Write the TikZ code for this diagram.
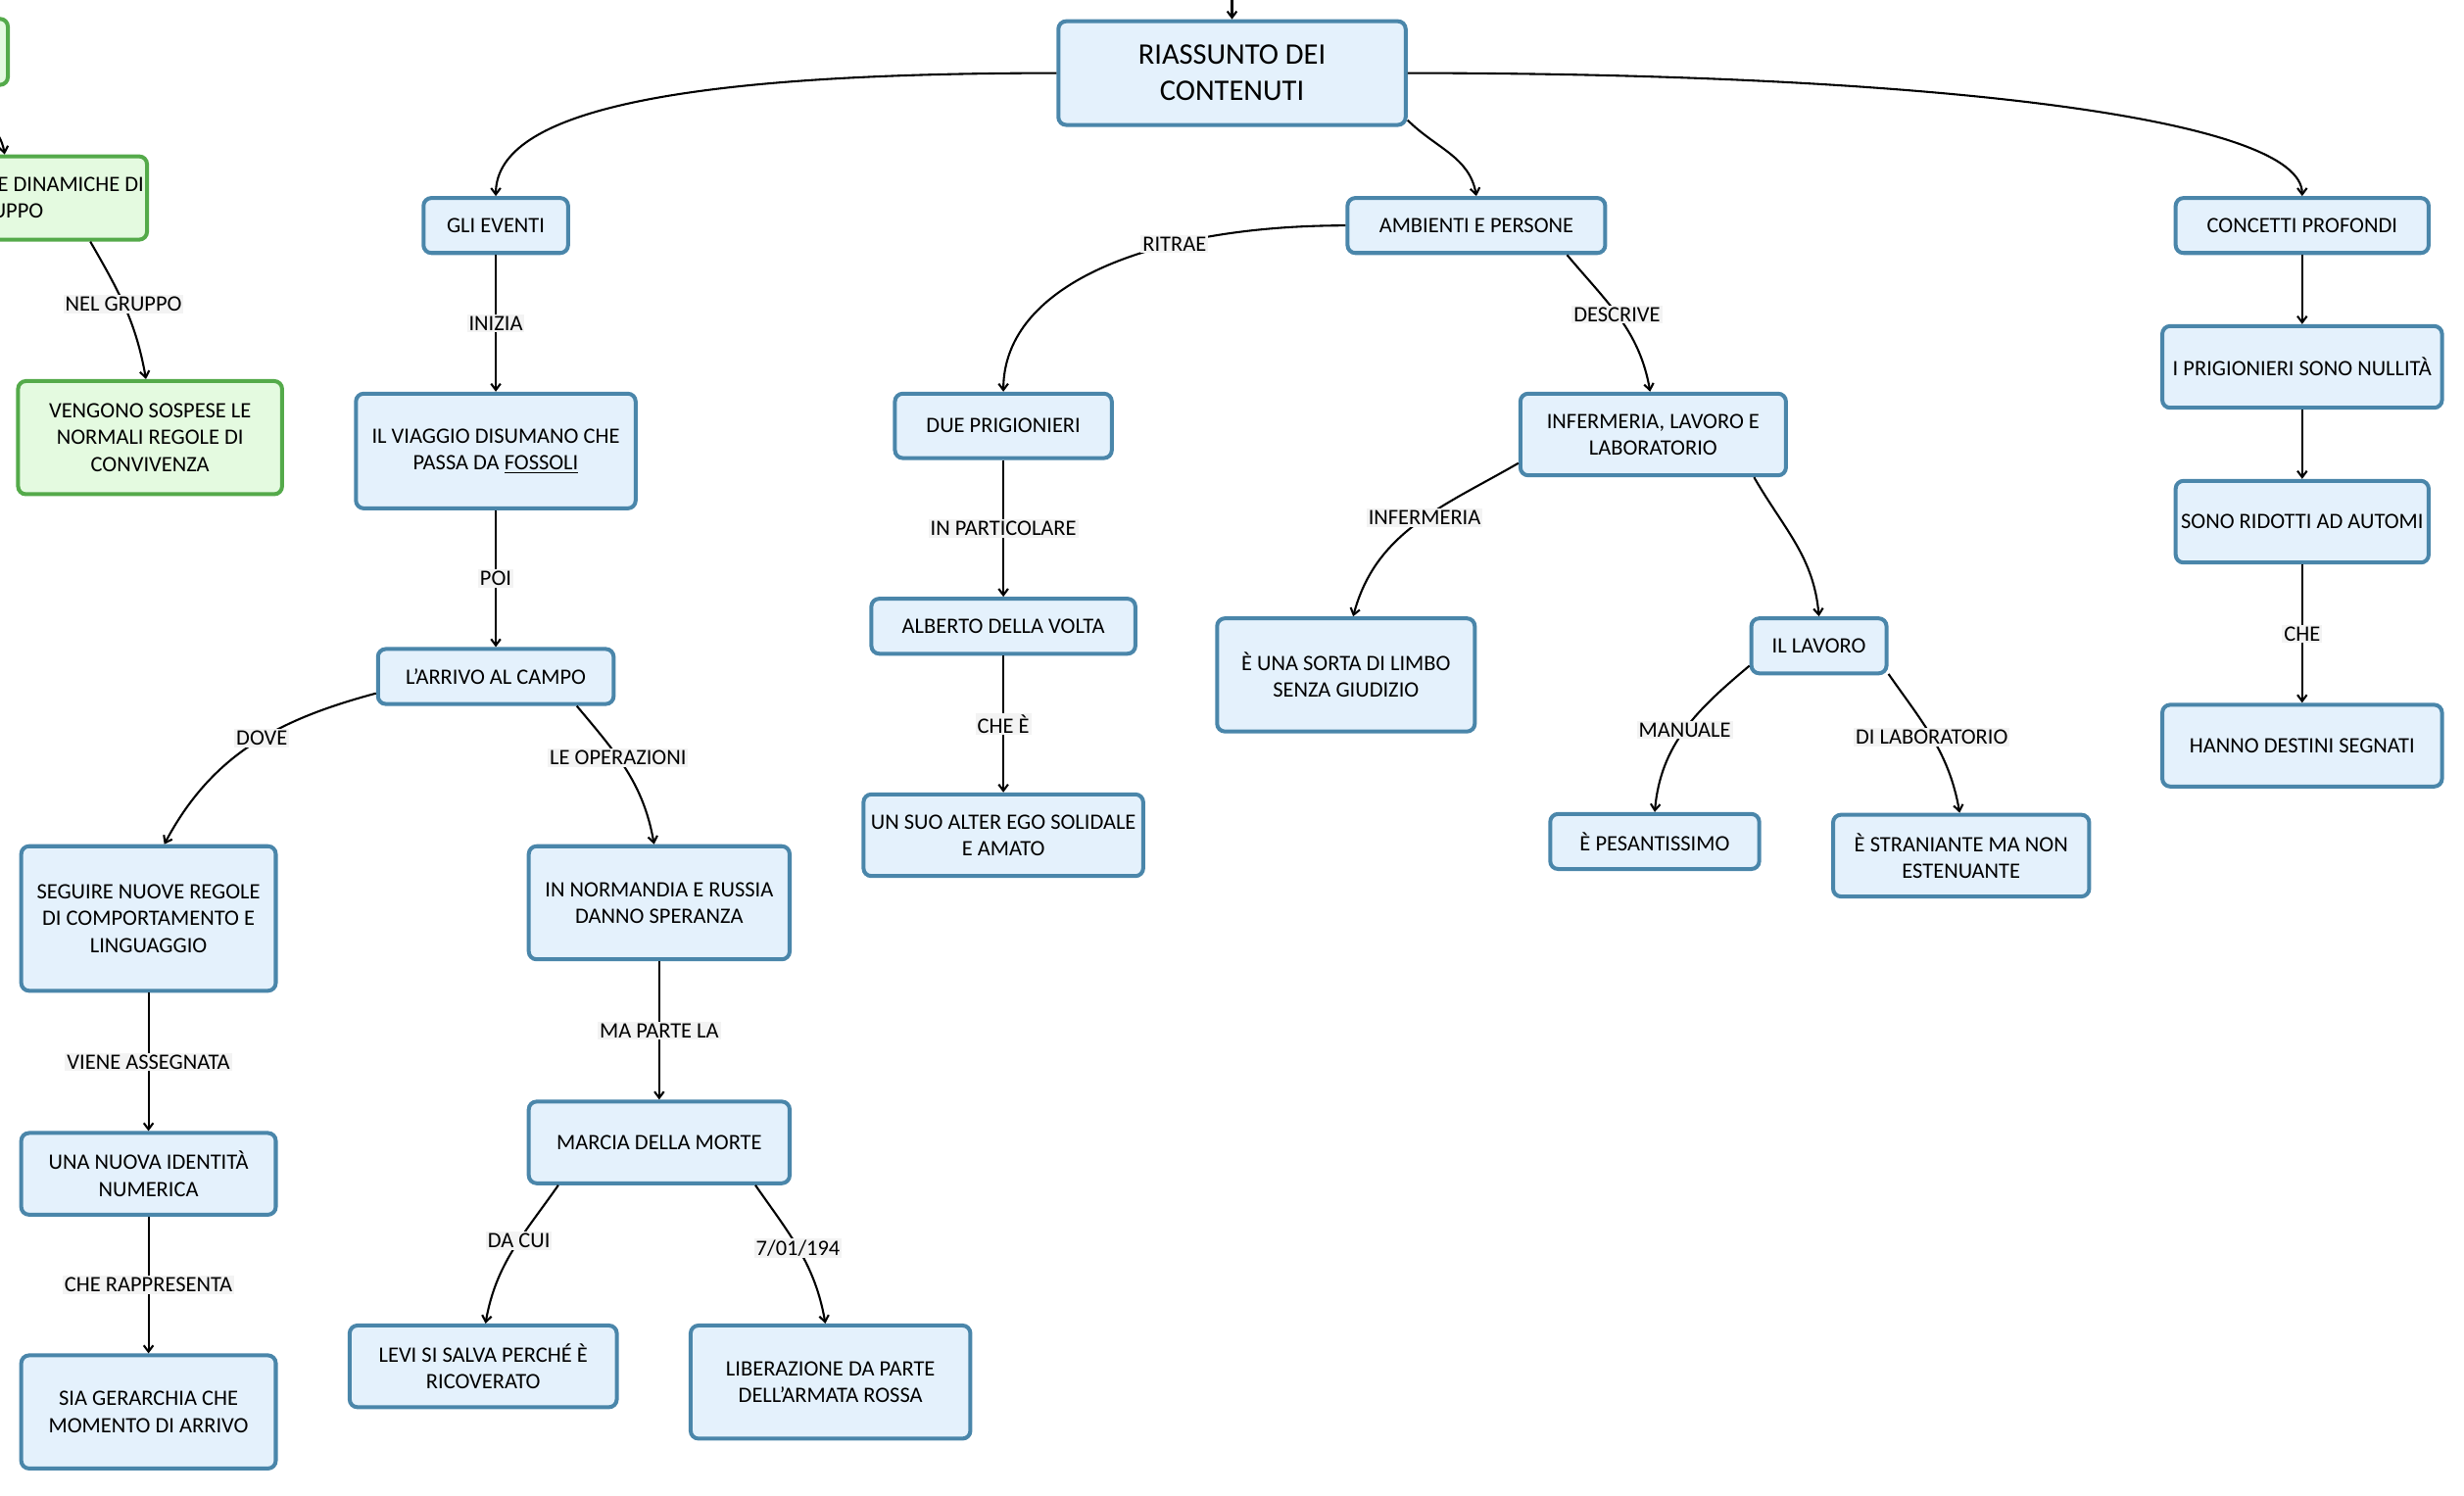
\documentclass[tikz,border=0pt]{standalone}
\usepackage{fontspec}
\setmainfont{Carlito}
\usetikzlibrary{arrows.meta, positioning}
\definecolor{boxline}{RGB}{74,134,170}
\definecolor{boxfill}{RGB}{228,241,252}
\definecolor{greenline}{RGB}{84,170,74}
\definecolor{greenfill}{RGB}{228,250,224}
\definecolor{labelfill}{RGB}{243,243,243}
\newcommand{\mapfont}{\fontsize{14pt}{17pt}\selectfont}
\newcommand{\rootfont}{\fontsize{19pt}{23pt}\selectfont}

\begin{document}
\begin{tikzpicture}[
  x=1pt, y=1pt,
  box/.style={rectangle, draw=boxline, fill=boxfill, line width=2.5pt, rounded corners=5pt, align=center, inner sep=2pt, font=\mapfont},
  greenbox/.style={box, draw=greenline, fill=greenfill},
  arrow/.style={-{Straight Barb[length=4pt,width=6pt]}, line width=1.3pt},
  linklabel/.style={fill=labelfill, inner sep=1.2pt, font=\mapfont}
]
  \useasboundingbox (0,0) rectangle (1568,-951.4);
  \clip (0,0) rectangle (1568,-951.4);

  % Root
  \node[box, font=\rootfont, minimum width=221pt, minimum height=66pt] (riassunto) at (784,-46.5) {RIASSUNTO DEI\\CONTENUTI};
  \coordinate (topin) at (784,20);

  % Eventi
  \node[box, minimum width=92pt, minimum height=35pt] (eventi) at (315.5,-143.5) {GLI EVENTI};
  \node[box, minimum width=178pt, minimum height=73pt, below=87pt of eventi] (viaggio) {IL VIAGGIO DISUMANO CHE\\PASSA DA \underline{FOSSOLI}};
  \node[box, minimum width=150pt, minimum height=35pt, below=87pt of viaggio] (arrivo) {L'ARRIVO AL CAMPO};
  \node[box, minimum width=162pt, minimum height=92pt] (seguire) at (94.5,-584.5) {SEGUIRE NUOVE REGOLE\\DI COMPORTAMENTO E\\LINGUAGGIO};
  \node[box, minimum width=162pt, minimum height=52pt, below=88pt of seguire] (identita) {UNA NUOVA IDENTITÀ\\NUMERICA};
  \node[box, minimum width=162pt, minimum height=72pt, below=87pt of identita] (gerarchia) {SIA GERARCHIA CHE\\MOMENTO DI ARRIVO};
  \node[box, minimum width=166pt, minimum height=72pt] (normandia) at (419.5,-574.5) {IN NORMANDIA E RUSSIA\\DANNO SPERANZA};
  \node[box, minimum width=166pt, minimum height=52pt, below=88pt of normandia] (marcia) {MARCIA DELLA MORTE};
  \node[box, minimum width=170pt, minimum height=52pt] (levi) at (307.5,-869.5) {LEVI SI SALVA PERCHÉ È\\RICOVERATO};
  \node[box, minimum width=178pt, minimum height=72pt] (liberazione) at (528.5,-879.5) {LIBERAZIONE DA PARTE\\DELL'ARMATA ROSSA};

  % Ambienti e persone
  \node[box, minimum width=164pt, minimum height=35pt] (ambienti) at (939.5,-143.5) {AMBIENTI E PERSONE};
  \node[box, minimum width=138pt, minimum height=41pt] (prigionieri) at (638.5,-271) {DUE PRIGIONIERI};
  \node[box, minimum width=168pt, minimum height=35pt, below=87pt of prigionieri] (alberto) {ALBERTO DELLA VOLTA};
  \node[box, minimum width=178pt, minimum height=52pt, below=87pt of alberto] (alterego) {UN SUO ALTER EGO SOLIDALE\\E AMATO};
  \node[box, minimum width=169pt, minimum height=52pt] (infermeria) at (1052,-276.5) {INFERMERIA, LAVORO E\\LABORATORIO};
  \node[box, minimum width=164pt, minimum height=72pt] (limbo) at (856.5,-429.5) {È UNA SORTA DI LIMBO\\SENZA GIUDIZIO};
  \node[box, minimum width=86pt, minimum height=35pt] (lavoro) at (1157.5,-411) {IL LAVORO};
  \node[box, minimum width=133pt, minimum height=35pt] (pesante) at (1053,-535.5) {È PESANTISSIMO};
  \node[box, minimum width=163pt, minimum height=52pt] (straniante) at (1248,-544.5) {È STRANIANTE MA NON\\ESTENUANTE};

  % Concetti profondi
  \node[box, minimum width=161pt, minimum height=35pt] (concetti) at (1465,-143.5) {CONCETTI PROFONDI};
  \node[box, minimum width=178pt, minimum height=52pt, below=44pt of concetti] (nullita) {I PRIGIONIERI SONO NULLITÀ};
  \node[box, minimum width=161pt, minimum height=52pt, below=44pt of nullita] (automi) {SONO RIDOTTI AD AUTOMI};
  \node[box, minimum width=178pt, minimum height=52pt, below=88pt of automi] (destini) {HANNO DESTINI SEGNATI};

  % Green branch, cut by the left edge
  \node[greenbox, minimum width=150pt, minimum height=42pt] (gruppi) at (-70,-33) {};
  \node[greenbox, minimum width=181pt, minimum height=53pt] (dinamiche) at (3,-126) {\hspace*{84pt}E DINAMICHE DI\\GRUPPO};
  \node[greenbox, minimum width=168pt, minimum height=72pt] (sospese) at (95.5,-278.5) {VENGONO SOSPESE LE\\NORMALI REGOLE DI\\CONVIVENZA};

  % Links from the root
  \draw[arrow] (topin) -- (riassunto);
  \draw[arrow] (riassunto.west) .. controls +(180:260) and +(90:50) .. (eventi.north);
  \draw[arrow] (riassunto.east) .. controls +(0:330) and +(90:50) .. (concetti.north);
  \draw[arrow] (riassunto.-15.6) to[out=-45, in=100] (ambienti.north);

  % Eventi
  \draw[arrow] (eventi) -- node[linklabel] {INIZIA} (viaggio);
  \draw[arrow] (viaggio) -- node[linklabel] {POI} (arrivo);
  \draw[arrow] (arrivo.188) to[out=195, in=62] node[linklabel, pos=0.45] {DOVE} (seguire.78);
  \draw[arrow] (arrivo.-20) to[out=-50, in=100] node[linklabel, pos=0.4] {LE OPERAZIONI} (normandia.95);
  \draw[arrow] (seguire) -- node[linklabel] {VIENE ASSEGNATA} (identita);
  \draw[arrow] (identita) -- node[linklabel] {CHE RAPPRESENTA} (gerarchia);
  \draw[arrow] (normandia) -- node[linklabel] {MA PARTE LA} (marcia);
  \draw[arrow] (marcia.-157) to[out=-125, in=80] node[linklabel, pos=0.42] {DA CUI} (levi.87);
  \draw[arrow] (marcia.-24) to[out=-55, in=100] node[linklabel, pos=0.48] {7/01/194} (liberazione.95);

  % Ambienti e persone
  \draw[arrow] (ambienti.west) .. controls +(180:120) and +(90:70) .. node[linklabel, pos=0.33] {RITRAE} (prigionieri.north);
  \draw[arrow] (ambienti.-18.1) to[out=-50, in=100] node[linklabel, pos=0.47] {DESCRIVE} (infermeria.94);
  \draw[arrow] (prigionieri) -- node[linklabel] {IN PARTICOLARE} (alberto);
  \draw[arrow] (alberto) -- node[linklabel] {CHE È} (alterego);
  \draw[arrow] (infermeria.192) to[out=210, in=75] node[linklabel, pos=0.45] {INFERMERIA} (limbo.83);
  \draw[arrow] (infermeria.-23.3) to[out=-60, in=95] (lavoro.north);
  \draw[arrow] (lavoro.196) to[out=220, in=85] node[linklabel, pos=0.5] {MANUALE} (pesante.north);
  \draw[arrow] (lavoro.-22) to[out=-55, in=100] node[linklabel, pos=0.48] {DI LABORATORIO} (straniante.92);

  % Concetti profondi
  \draw[arrow] (concetti.south) -- (nullita.north);
  \draw[arrow] (nullita.south) -- (automi.north);
  \draw[arrow] (automi.south) -- node[linklabel] {CHE} (destini.north);

  % Green branch
  \draw[arrow] (gruppi.south) to[out=-30, in=100] (dinamiche.north);
  \draw[arrow] (dinamiche.-27.4) to[out=-60, in=100] node[linklabel, pos=0.47] {NEL GRUPPO} (sospese.94);
\end{tikzpicture}
\end{document}
